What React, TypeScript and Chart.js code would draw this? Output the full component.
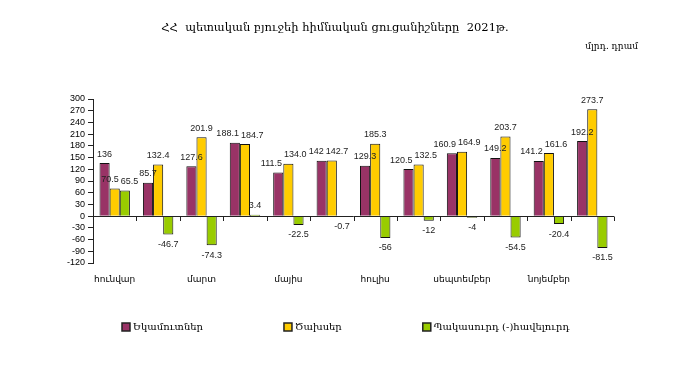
import React, { useEffect, useRef } from 'react';
import { Chart, registerables } from 'chart.js';

Chart.register(...registerables);

const months = ['հունվար', 'փետրվար', 'մարտ', 'ապրիլ', 'մայիս', 'հունիս', 'հուլիս', 'օգոստոս', 'սեպտեմբեր', 'հոկտեմբեր', 'նոյեմբեր', 'դեկտեմբեր'];
const revenues = ['136', '85.7', '127.6', '188.1', '111.5', '142', '129.3', '120.5', '160.9', '149.2', '141.2', '192.2'];
const expenditures = ['70.5', '132.4', '201.9', '184.7', '134.0', '142.7', '185.3', '132.5', '164.9', '203.7', '161.6', '273.7'];
const balance = ['65.5', '-46.7', '-74.3', '3.4', '-22.5', '-0.7', '-56', '-12', '-4', '-54.5', '-20.4', '-81.5'];
const seriesNames = ['Եկամուտներ', 'Ծախսեր', 'Պակասուրդ (-)հավելուրդ'];
const seriesColors = ['#993366', '#FFCC00', '#99CC00'];
const yMin = -120;
const yMax = 300;
const yStep = 30;
const titleText = 'ՀՀ  պետական բյուջեի հիմնական ցուցանիշները  2021թ.';
const unitText = 'մլրդ. դրամ';

const overlayPlugin = {
  id: 'overlay',
  afterDatasetsDraw(chart: any) {
    const { ctx, chartArea, scales } = chart;
    const y0 = scales.y.getPixelForValue(0);
    ctx.save();
    // zero axis line with category tick marks
    ctx.strokeStyle = '#222';
    ctx.lineWidth = 1;
    ctx.beginPath();
    ctx.moveTo(chartArea.left, Math.round(y0) + 0.5);
    ctx.lineTo(chartArea.right, Math.round(y0) + 0.5);
    const n = months.length;
    const w = (chartArea.right - chartArea.left) / n;
    for (let k = 1; k <= n; k++) {
      const x = Math.round(chartArea.left + k * w) + 0.5;
      ctx.moveTo(x, Math.round(y0) + 0.5);
      ctx.lineTo(x, Math.round(y0) + 5);
    }
    ctx.stroke();

    // data labels
    ctx.font = '9px "Liberation Sans", Arial, sans-serif';
    ctx.fillStyle = '#222';
    ctx.textAlign = 'center';
    ctx.textBaseline = 'middle';
    const raw = [revenues, expenditures, balance];
    for (let i = 0; i < n; i++) {
      const items: any[] = [];
      for (let di = 0; di < 3; di++) {
        const bar: any = chart.getDatasetMeta(di).data[i];
        const txt = raw[di][i];
        const v = Number(txt);
        const tw = ctx.measureText(txt).width;
        const cy = v >= 0 ? bar.y - 9 : bar.y + 10;
        items.push({ txt, x: bar.x, y: cy, w: tw });
      }
      // push apart horizontally overlapping labels in the group
      for (let a = 0; a < items.length; a++) {
        for (let b = a + 1; b < items.length; b++) {
          const A = items[a];
          const B = items[b];
          if (Math.abs(A.y - B.y) < 10) {
            const need = (A.w + B.w) / 2 + 2 - (B.x - A.x);
            if (need > 0) {
              A.x -= need / 2;
              B.x += need / 2;
            }
          }
        }
      }
      items.forEach((it) => ctx.fillText(it.txt, it.x, it.y));
    }

    // title and unit
    ctx.fillStyle = '#000';
    ctx.textBaseline = 'middle';
    ctx.textAlign = 'center';
    ctx.font = '11.5px "DejaVu Serif", serif';
    ctx.fillText(titleText, 335, 28);
    ctx.textAlign = 'right';
    ctx.font = '9px "DejaVu Serif", serif';
    ctx.fillText(unitText, 638, 47);

    // legend
    ctx.font = '10px "DejaVu Serif", serif';
    const gap = 81;
    const box = 8;
    const widths = seriesNames.map((s) => box + 3 + ctx.measureText(s).width);
    const total = widths.reduce((a, b) => a + b, 0) + gap * (seriesNames.length - 1);
    let x = Math.round(346 - total / 2);
    const ly = 327;
    ctx.textAlign = 'left';
    seriesNames.forEach((s, i) => {
      ctx.fillStyle = seriesColors[i];
      ctx.fillRect(x, ly - box / 2, box, box);
      ctx.strokeStyle = '#222';
      ctx.lineWidth = 1.5;
      ctx.strokeRect(x, ly - box / 2, box, box);
      ctx.fillStyle = '#000';
      ctx.fillText(s, x + box + 3, ly);
      x += widths[i] + gap;
    });
    ctx.restore();
  },
};

export default function App() {
  const ref = useRef<HTMLCanvasElement>(null);
  useEffect(() => {
    document.body.style.margin = '0';
    const chart = new Chart(ref.current!, {
      type: 'bar',
      data: {
        labels: months,
        datasets: [revenues, expenditures, balance].map((arr, i) => ({
          label: seriesNames[i],
          data: arr.map(Number),
          backgroundColor: seriesColors[i],
          borderColor: '#111',
          borderWidth: 1,
          categoryPercentage: 0.7,
          barPercentage: 1.0,
        })),
      },
      options: {
        animation: false,
        responsive: false,
        layout: { padding: { top: 99, right: 61, bottom: 83, left: 0 } },
        plugins: { legend: { display: false }, tooltip: { enabled: false }, title: { display: false } },
        scales: {
          x: {
            grid: { display: false },
            border: { display: false },
            afterFit: (s: any) => { s.height = 30; },
            ticks: {
              autoSkip: false,
              maxRotation: 0,
              padding: 3,
              color: '#000',
              font: { family: '"DejaVu Sans", sans-serif', size: 9 },
              callback: (_v: any, i: number) => (i % 2 === 0 ? months[i] : ''),
            },
          },
          y: {
            min: yMin,
            max: yMax,
            afterFit: (s: any) => { s.width = 93; },
            grid: { drawOnChartArea: false, drawTicks: true, tickLength: 5, color: '#222' },
            border: { display: true, color: '#222' },
            ticks: {
              stepSize: yStep,
              autoSkip: false,
              padding: 3,
              color: '#000',
              font: { family: '"Liberation Sans", Arial, sans-serif', size: 9 },
            },
          },
        },
      },
      plugins: [overlayPlugin],
    });
    return () => chart.destroy();
  }, []);
  return (
    <div style={{ width: 675, height: 376, background: '#fff' }}>
      <canvas ref={ref} width={675} height={376} />
    </div>
  );
}
